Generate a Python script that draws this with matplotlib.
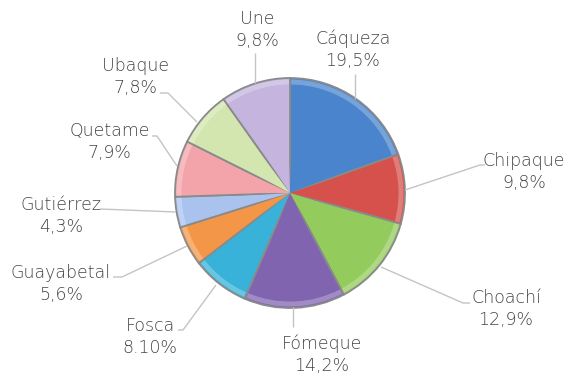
import matplotlib
matplotlib.use("Agg")
import matplotlib.pyplot as plt
import numpy as np
from matplotlib.patches import Wedge

categories = ["Cáqueza", "Chipaque", "Choachí", "Fómeque", "Fosca",
              "Guayabetal", "Gutiérrez", "Quetame", "Ubaque", "Une"]
values = [19.5, 9.8, 12.9, 14.2, 8.10, 5.6, 4.3, 7.9, 7.8, 9.8]
value_labels = ["19,5%", "9,8%", "12,9%", "14,2%", "8.10%",
                "5,6%", "4,3%", "7,9%", "7,8%", "9,8%"]
colors = ["#4a84cc", "#d6504c", "#93cb5c", "#8064b0", "#38b2d8",
          "#f49648", "#a9c3ee", "#f2a4aa", "#d3e6b0", "#c4b4de"]

W, H = 568, 381
fig = plt.figure(figsize=(W / 100, H / 100), dpi=100)

cx, cy, R = 290, 193, 115

# pie axis (y up)
ax2 = fig.add_axes([0, 0, 1, 1])
wedges, _ = ax2.pie(values, colors=colors, startangle=90, counterclock=False,
                    center=(cx, H - cy), radius=R, frame=True,
                    wedgeprops=dict(edgecolor="#8a8a8a", linewidth=1.3))
ax2.set_xlim(0, W)
ax2.set_ylim(0, H)
ax2.axis("off")

def lighten(c, f):
    r, g, b = matplotlib.colors.to_rgb(c)
    return (r + (1 - r) * f, g + (1 - g) * f, b + (1 - b) * f)

for w, c in zip(wedges, colors):
    t1, t2 = w.theta1, w.theta2
    ax2.add_patch(Wedge((cx, H - cy), R - 1.5, t1 + 0.6, t2 - 0.6, width=5,
                        facecolor=lighten(c, 0.25), edgecolor="none"))
    ax2.add_patch(Wedge((cx, H - cy), R - 7, t1 + 1.8, t2 - 1.8,
                        facecolor=c, edgecolor="none"))

# overlay axis in image coordinates (y down) for labels
ax = fig.add_axes([0, 0, 1, 1])
ax.set_xlim(0, W)
ax.set_ylim(H, 0)
ax.axis("off")

label_pos = {
    "Cáqueza": (353, 50), "Chipaque": (524, 172), "Choachí": (506, 309),
    "Fómeque": (322, 355), "Fosca": (150, 337), "Guayabetal": (61, 284),
    "Gutiérrez": (61, 216), "Quetame": (110, 142), "Ubaque": (136, 77),
    "Une": (257, 30),
}
leaders = {
    "Cáqueza": [(355, 74), (355, 99)],
    "Chipaque": [(485, 165), (480, 165), (405, 190)],
    "Choachí": [(470, 303), (463, 303), (381, 267)],
    "Fómeque": [(293, 327), (293, 307)],
    "Fosca": [(178, 330), (183, 330), (216, 285)],
    "Guayabetal": [(113, 277), (122, 277), (187, 246)],
    "Gutiérrez": [(100, 209), (176, 212)],
    "Quetame": [(152, 136), (157, 136), (177, 166)],
    "Ubaque": [(160, 93), (168, 93), (197, 122)],
    "Une": [(255, 53), (255, 83)],
}
for name, pts in leaders.items():
    xs, ys = zip(*pts)
    ax.plot(xs, ys, color="#c4c4c4", lw=1.0, solid_capstyle="butt")

for name, vl in zip(categories, value_labels):
    x, y = label_pos[name]
    ax.text(x, y, f"{name}\n{vl}", ha="center", va="center",
            fontsize=12.5, color="#444444", family="DejaVu Sans",
            fontweight="light", linespacing=1.3)

fig.savefig("out.png", dpi=100)
